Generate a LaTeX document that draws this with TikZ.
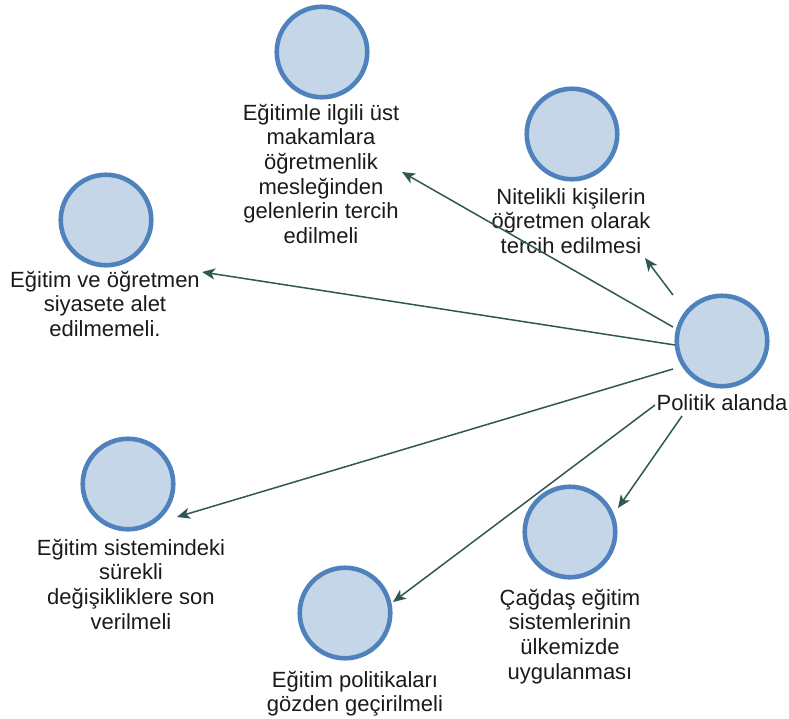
\documentclass[tikz,border=0pt]{standalone}
\usepackage{fontspec}
\setmainfont{Liberation Sans}
\usetikzlibrary{arrows.meta}
\definecolor{cfill}{HTML}{C5D6E9}
\definecolor{cline}{HTML}{4F81BD}
\definecolor{arrowc}{HTML}{2F5753}
\definecolor{txt}{HTML}{1A1A1A}
\tikzset{
  bubble/.style={circle, draw=cline, fill=cfill, line width=4.6pt, minimum size=90.5pt, inner sep=0pt},
  lbl/.style={anchor=north, align=center, inner sep=0pt, text=txt, font=\fontsize{22}{24.6}\selectfont},
  conn/.style={draw=arrowc, line width=1.5pt, -{Stealth[length=13pt,width=11pt,inset=3.5pt]}}
}
\newcommand{\fl}{\rule{0pt}{17pt}}
\begin{document}
\begin{tikzpicture}[x=1pt,y=-1pt]
\useasboundingbox (0,0) rectangle (789,718);

% circles
\node[bubble] (c)  at (722,341) {};
\node[bubble] (n1) at (322,52) {};
\node[bubble] (n2) at (572,134) {};
\node[bubble] (n3) at (106,220) {};
\node[bubble] (n4) at (128,484) {};
\node[bubble] (n5) at (345,613) {};
\node[bubble] (n6) at (570,532) {};

% labels
\node[lbl] (lc) at (722,393) {\fl Politik alanda};
\node[lbl] (l1) at (321,103) {\fl Eğitimle ilgili üst\\makamlara\\öğretmenlik\\mesleğinden\\gelenlerin tercih\\edilmeli};
\node[lbl] (l2) at (571,187) {\fl Nitelikli kişilerin\\öğretmen olarak\\tercih edilmesi};
\node[lbl] (l3) at (105,270) {\fl Eğitim ve öğretmen\\siyasete alet\\edilmemeli.};
\node[lbl] (l4) at (131,538) {\fl Eğitim sistemindeki\\sürekli\\değişikliklere son\\verilmeli};
\node[lbl] (l5) at (355,670) {\fl Eğitim politikaları\\gözden geçirilmeli};
\node[lbl] (l6) at (570,588) {\fl Çağdaş eğitim\\sistemlerinin\\ülkemizde\\uygulanması};

% connector end points
\coordinate (s1) at (673,327); \coordinate (e1) at (402,172);
\coordinate (s2) at (673,295); \coordinate (e2) at (645,258);
\coordinate (s3) at (675,345); \coordinate (e3) at (202,272);
\coordinate (s4) at (673,369); \coordinate (e4) at (177,517);
\coordinate (s5) at (655,405); \coordinate (e5) at (393,602);
\coordinate (s6) at (682,416); \coordinate (e6) at (618,508);

\draw[conn] (s1) -- (e1);
\draw[conn] (s2) -- (e2);
\draw[conn] (s3) -- (e3);
\draw[conn] (s4) -- (e4);
\draw[conn] (s5) -- (e5);
\draw[conn] (s6) -- (e6);
\end{tikzpicture}
\end{document}
